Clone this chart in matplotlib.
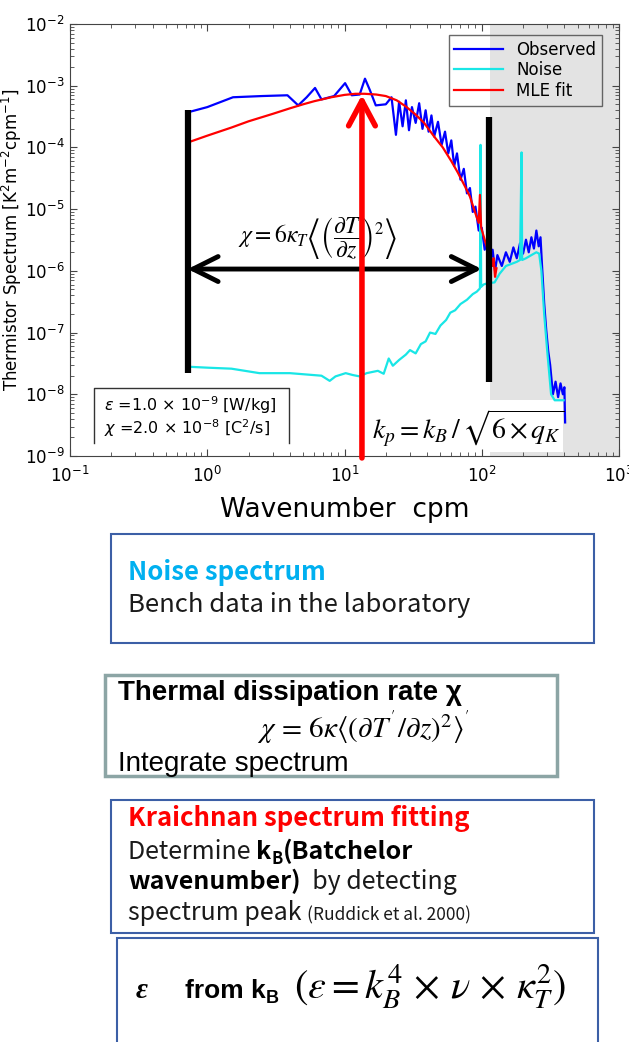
import matplotlib.pyplot as plt
from matplotlib.patches import Rectangle

W, H = 629, 1042
plt.rcParams['mathtext.fontset'] = 'stix'
plt.rcParams['font.family'] = ['DejaVu Sans']

# observed spectrum
obs_k = [0.72, 1.0, 1.54, 2.5, 3.84, 4.6, 5.3, 6.1, 6.8, 8.4, 10.1, 11.3, 12.9, 14.1,
         15.3, 16.9, 20, 22, 23.7, 25, 26.5, 28, 29.5, 31, 33, 35, 37, 39, 41, 43, 45,
         48, 51, 54, 57, 60, 63, 66, 70, 74, 78, 82, 86, 90, 95, 100, 105, 110, 115,
         120, 125, 130, 140, 150, 160, 170, 180, 190, 200, 210, 220, 230, 240, 250,
         260, 268, 275, 285, 295, 305, 315, 330, 345, 360, 375, 390, 400, 405]
obs_s = [3.7e-4, 4.5e-4, 6.5e-4, 6.8e-4, 7.0e-4, 4.8e-4, 6.5e-4, 9.2e-4, 6.0e-4, 6.8e-4,
         1.1e-3, 7.0e-4, 7.2e-4, 1.3e-3, 8.5e-4, 4.8e-4, 5.0e-4, 6.5e-4, 1.6e-4, 5.5e-4,
         2.2e-4, 5.8e-4, 1.9e-4, 4.5e-4, 2.5e-4, 5.2e-4, 2.0e-4, 4.0e-4, 1.8e-4, 3.3e-4,
         1.5e-4, 2.6e-4, 1.1e-4, 1.8e-4, 8e-5, 1.3e-4, 5e-5, 8e-5, 3e-5, 4.5e-5, 1.8e-5,
         2.2e-5, 9e-6, 1.1e-5, 4.5e-6, 5e-6, 2.2e-6, 3e-6, 1.4e-6, 2.2e-6, 1.0e-6, 1.8e-6,
         1.2e-6, 2.0e-6, 1.4e-6, 2.4e-6, 1.6e-6, 2.8e-6, 1.9e-6, 3.2e-6, 2.0e-6, 3.5e-6,
         2.3e-6, 4.5e-6, 2.5e-6, 3.5e-6, 1.2e-6, 3e-7, 1.1e-7, 5e-8, 3e-8, 1.0e-8, 1.6e-8,
         9e-9, 1.5e-8, 1.0e-8, 1.3e-8, 3.5e-9]

# laboratory noise spectrum
noise_k = [0.72, 1.0, 1.5, 2.4, 4, 6.8, 7.8, 8.6, 10.2, 11.5, 12.9, 14.5, 17.5, 19.3, 21,
           22.5, 25, 28, 30, 33, 36, 39, 42, 46, 50, 55, 59, 64, 70, 78, 86, 92, 97, 98,
           99, 103, 110, 124, 135, 150, 165, 180, 190, 195, 197, 210, 230, 250, 262, 272,
           285, 300, 320, 340, 360, 380, 395]
noise_s = [2.8e-8, 2.7e-8, 2.6e-8, 2.2e-8, 2.2e-8, 2.0e-8, 1.65e-8, 1.95e-8, 2.2e-8,
           2.05e-8, 1.95e-8, 2.2e-8, 2.4e-8, 2.15e-8, 3.8e-8, 2.9e-8, 3.6e-8, 4.4e-8,
           5.2e-8, 4.6e-8, 6.5e-8, 7.2e-8, 1.0e-7, 9.5e-8, 1.3e-7, 1.6e-7, 2.1e-7, 2.3e-7,
           2.9e-7, 3.4e-7, 4.2e-7, 4.6e-7, 5.2e-7, 1.1e-4, 5.5e-7, 6e-7, 6.3e-7, 6.5e-7,
           9e-7, 1.2e-6, 1.3e-6, 1.4e-6, 1.5e-6, 8.3e-5, 1.5e-6, 1.6e-6, 1.8e-6, 2.0e-6,
           1.9e-6, 1.0e-6, 2e-7, 5e-8, 1e-8, 8e-9, 8e-9, 8e-9, 8e-9]

# MLE (Kraichnan) fit
fit_k = [0.72, 1.0, 1.5, 2.0, 3.0, 4.0, 5.0, 6.0, 8.0, 10, 12, 14, 17, 20, 24, 28, 33,
         38, 45, 52, 60, 67, 75, 82, 90, 95, 97, 99, 105, 113, 120, 122, 125, 128]
fit_s = [1.2e-4, 1.55e-4, 2.1e-4, 2.65e-4, 3.5e-4, 4.3e-4, 5.0e-4, 5.6e-4, 6.5e-4,
         7.1e-4, 7.4e-4, 7.4e-4, 7.2e-4, 6.8e-4, 5.8e-4, 4.6e-4, 3.4e-4, 2.5e-4, 1.5e-4,
         1.0e-4, 6e-5, 3.9e-5, 2.4e-5, 1.6e-5, 8.5e-6, 6e-6, 1.7e-5, 5e-6, 3.2e-6,
         1.9e-6, 1.2e-6, 1.6e-6, 8e-7, 1.1e-6]

k_low, k_high = 0.72, 113      # integration range
k_peak = 13.4                  # spectral peak
k_noise = 114                  # start of noise-dominated band


def fx(px):
    return px / W


def fy(py):
    return 1 - py / H


fig = plt.figure(figsize=(W / 100, H / 100), dpi=100)
ax = fig.add_axes([fx(70), fy(456), 549 / W, 432 / H])
ax.set_xscale('log')
ax.set_yscale('log')
ax.set_xlim(0.1, 1000)
ax.set_ylim(1e-9, 1e-2)

ax.axvspan(k_noise, 1000, color='#e3e3e3', lw=0, zorder=0)
ax.add_patch(Rectangle((k_noise, 1.16e-9), 391 - k_noise, 8e-9 - 1.16e-9,
                       facecolor='white', edgecolor='none', zorder=0.5))

ax.plot(obs_k, obs_s, color='#0000ff', lw=1.6, label='Observed', zorder=2)
ax.plot(noise_k, noise_s, color='#19e6e6', lw=1.6, label='Noise', zorder=2.1)
ax.plot(fit_k, fit_s, color='#ff0000', lw=1.6, label='MLE fit', zorder=2.2)

ax.plot([k_low, k_low], [4.1e-4, 2.2e-8], color='k', lw=4.5, solid_capstyle='butt', zorder=3)
ax.plot([k_high, k_high], [3.1e-4, 1.6e-8], color='k', lw=4.5, solid_capstyle='butt', zorder=3)

ax.annotate('', xy=(100, 1.07e-6), xytext=(k_low, 1.07e-6),
            arrowprops=dict(arrowstyle='<->,head_length=0.9,head_width=0.45',
                            mutation_scale=20, lw=3.5, color='k',
                            shrinkA=0, shrinkB=0), zorder=3)
ax.annotate('', xy=(k_peak, 7.1e-4), xytext=(k_peak, 9.3e-10),
            arrowprops=dict(arrowstyle='->,head_length=0.9,head_width=0.48',
                            mutation_scale=20, lw=4, color='#ff0000',
                            shrinkA=0, shrinkB=0), zorder=4, annotation_clip=False)

ax.text(6.4, 3.4e-6,
        r'$\chi = 6\kappa_T\left\langle\left(\dfrac{\partial T}{\partial z}\right)^{2}\right\rangle$',
        fontsize=17, ha='center', va='center', zorder=3.5)
ax.text(80, 2.9e-9, r'$k_p = k_B\,/\,\sqrt{6\times q_K}$', fontsize=20,
        ha='center', va='center', zorder=3.5)

# parameter box (top, left and right sides only)
bx0, bx1, by0, by1 = 0.150, 3.95, 1.62e-9, 1.26e-8
ax.plot([bx0, bx0, bx1, bx1], [by0, by1, by1, by0], color='#333333', lw=1, zorder=3)
ax.text(0.177, 6.7e-9, r'$\varepsilon$ =1.0 $\times$ 10$^{-9}$ [W/kg]', fontsize=11.5,
        va='center', math_fontfamily='dejavusans')
ax.text(0.177, 2.8e-9, r'$\chi$ =2.0 $\times$ 10$^{-8}$ [C$^2$/s]', fontsize=11.5,
        va='center', math_fontfamily='dejavusans')

leg = ax.legend(loc='upper right', bbox_to_anchor=((602 - 70) / 549, (456 - 35) / 432),
                borderaxespad=0, fontsize=12, frameon=True, fancybox=False,
                handlelength=2.9, labelspacing=0.15, borderpad=0.35)
leg.get_frame().set_edgecolor('#444444')
leg.get_frame().set_facecolor('none')
leg.get_frame().set_linewidth(1)

ax.tick_params(which='both', direction='in', top=True, right=True, labelsize=12,
               color='#444444')
ax.tick_params(which='major', length=5)
ax.tick_params(which='minor', length=3)
ax.tick_params(axis='x', pad=7)
ax.tick_params(axis='y', pad=4)
for s in ax.spines.values():
    s.set_color('#444444')
ax.set_ylabel(r'Thermistor Spectrum [K$^2$m$^{-2}$cpm$^{-1}$]', fontsize=12,
              math_fontfamily='dejavusans')
ax.yaxis.set_label_coords((24 - 70) / 549, 0.5)
ax.set_xlabel('Wavenumber  cpm', fontsize=19, labelpad=8)

# ---- lower explanatory boxes ----
renderer = fig.canvas.get_renderer()


def box(x0, y0, x1, y1, color, lw):
    fig.add_artist(Rectangle((fx(x0), fy(y1)), (x1 - x0) / W, (y1 - y0) / H,
                             transform=fig.transFigure, facecolor='none',
                             edgecolor=color, lw=lw, clip_on=False))


def run(x, y, pieces):
    # pieces: (text, dict of font props, baseline shift in px)
    for txt, kw, dy in pieces:
        t = fig.text(fx(x), fy(y + dy), txt, va='baseline', ha='left', **kw)
        x += t.get_window_extent(renderer).width


jp = ['Noto Sans CJK JP', 'DejaVu Sans']
ar = ['Liberation Sans', 'DejaVu Sans']

box(111, 534, 594, 643, '#3c5fa6', 1.5)
run(128, 580, [('Noise spectrum', dict(family=jp, fontsize=18.5, weight='bold', color='#00b0f0'), 0)])
run(128, 612, [('Bench data in the laboratory', dict(family=jp, fontsize=18.5, color='#1a1a1a'), 0)])

box(105, 675, 557, 776, '#8ca5a5', 2.5)
run(118, 700, [('Thermal dissipation rate \u03c7', dict(family=ar, fontsize=20, weight='bold', color='k'), 0)])
run(257, 738, [(r"$\chi\,=\,6\kappa\langle(\partial T^{'}/\partial z)^2\rangle^{'}$",
                dict(fontsize=21, color='k'), 0)])
run(118, 771, [('Integrate spectrum', dict(family=ar, fontsize=20, color='k'), 0)])

box(111, 800, 594, 933, '#3c5fa6', 1.5)
reg = dict(family=jp, fontsize=18, color='#1a1a1a')
bold = dict(family=jp, fontsize=18, weight='bold', color='k')
sub = dict(family=jp, fontsize=12, weight='bold', color='k')
run(128, 826, [('Kraichnan spectrum fitting', dict(family=jp, fontsize=18.5, weight='bold', color='#ff0000'), 0)])
run(128, 859, [('Determine ', reg, 0), ('k', bold, 0), ('B', sub, 5), ('(Batchelor', bold, 0)])
run(128, 889, [('wavenumber)', bold, 0), ('  by detecting', reg, 0)])
run(128, 920, [('spectrum peak ', reg, 0), ('(Ruddick et al. 2000)', dict(family=jp, fontsize=12.5, color='#1a1a1a'), 0)])

box(117, 938, 598, 1048, '#3c5fa6', 1.5)
run(136, 998, [('\u03b5', dict(family=['Liberation Serif'], fontsize=21, weight='bold', style='italic', color='k'), 0)])
run(185, 998, [('from k', dict(family=ar, fontsize=19, weight='bold', color='k'), 0),
               ('B', dict(family=ar, fontsize=13, weight='bold', color='k'), 5)])
run(294, 998, [(r'$(\varepsilon = k_B^4\,\times\,\nu\,\times\,\kappa_T^2)$', dict(fontsize=29, color='k'), 0)])

fig.savefig('out.png', dpi=100)
